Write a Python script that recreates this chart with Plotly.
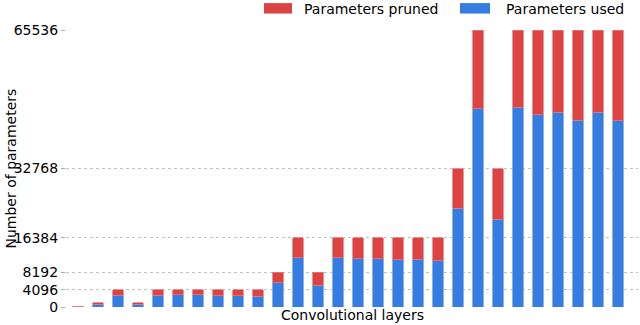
import plotly.graph_objects as go

layers = [f"conv{i+1}" for i in range(28)]
total_params = [192, 1024, 4096, 1024, 4096, 4096, 4096, 4096, 4096, 4096,
                8192, 16384, 8192, 16384, 16384, 16384, 16384, 16384, 16384,
                32768, 65536, 32768, 65536, 65536, 65536, 65536, 65536, 65536]
used_params = [130, 600, 2780, 600, 2780, 2950, 2870, 2710, 2710, 2550,
               5700, 11700, 5100, 11600, 11430, 11360, 11200, 11270, 10960,
               23380, 46950, 20790, 47260, 45540, 46080, 44190, 46080, 44030]
pruned_params = [t - u for t, u in zip(total_params, used_params)]
y_ticks = [0, 4096, 8192, 16384, 32768, 65536]
legend_names = ["Parameters pruned", "Parameters used"]

RED = "#DC4444"
BLUE = "#367DE2"
W, H = 640, 325
ML, MR, MT, MB = 66, 2, 29.5, 17.5
PW, PH = W - ML - MR, H - MT - MB

def px(x):  # pixel x -> paper
    return (x - ML) / PW

def py(y):  # pixel y -> paper
    return (H - MB - y) / PH

fig = go.Figure()
fig.add_trace(go.Bar(x=list(range(len(layers))), y=used_params, name=legend_names[1],
                     marker=dict(color=BLUE, line=dict(color="#6d9fe8", width=0.8)),
                     width=0.52, hovertext=layers))
fig.add_trace(go.Bar(x=list(range(len(layers))), y=pruned_params, name=legend_names[0],
                     marker=dict(color=RED, line=dict(color="#e87878", width=0.8)),
                     width=0.52, hovertext=layers))

shapes = []
annotations = []
# manual legend (matplotlib-style wide handles)
for (x0, x1, tx), color, name in zip([(264, 292, 302), (460, 490, 504)], [RED, BLUE], legend_names):
    shapes.append(dict(type="rect", xref="paper", yref="paper",
                       x0=px(x0), x1=px(x1), y0=py(13), y1=py(2.5),
                       fillcolor=color, line=dict(width=0)))
    annotations.append(dict(text=name, xref="paper", yref="paper", x=px(tx), y=py(8),
                            xanchor="left", yanchor="middle", showarrow=False,
                            font=dict(size=14, color="black")))
annotations.append(dict(text="Convolutional layers", xref="paper", yref="paper",
                        x=px(352), y=py(316), xanchor="center", yanchor="middle",
                        showarrow=False, font=dict(size=14, color="black")))
annotations.append(dict(text="Number of parameters", xref="paper", yref="paper",
                        x=px(10), y=py(168.5), xanchor="center", yanchor="middle",
                        textangle=-90, showarrow=False, font=dict(size=14, color="black")))

fig.update_layout(
    barmode="stack",
    width=W, height=H,
    margin=dict(l=ML, r=MR, t=MT, b=MB, autoexpand=False),
    paper_bgcolor="white", plot_bgcolor="white",
    font=dict(family="DejaVu Sans", size=14, color="black"),
    showlegend=False,
    shapes=shapes, annotations=annotations,
)
fig.update_xaxes(range=[-0.6, 28.0], showticklabels=False, ticks="", showgrid=False,
                 zeroline=False, showline=False)
fig.update_yaxes(range=[0, 65536], tickvals=y_ticks, ticktext=[str(v) for v in y_ticks],
                 ticks="outside", ticklen=4, tickcolor="#aaaaaa",
                 showgrid=True, gridcolor="#c0c0c0", griddash="dot", gridwidth=1,
                 zeroline=False, showline=False, automargin=False)

fig.write_html("out.html", config={"displayModeBar": False},
               post_script="document.body.style.margin='0';")
